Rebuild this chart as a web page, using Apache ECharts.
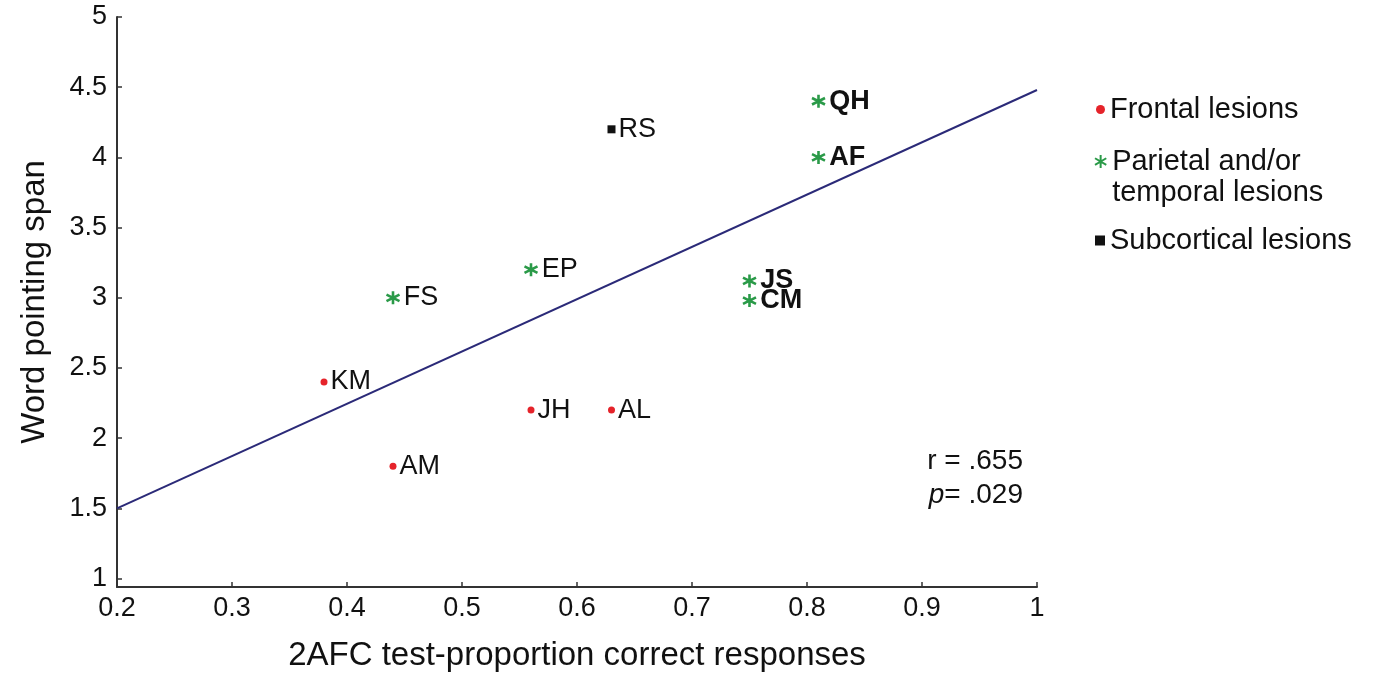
<!DOCTYPE html>
<html>
<head>
<meta charset="utf-8">
<script src="https://cdn.jsdelivr.net/npm/echarts@6/dist/echarts.min.js"></script>
<style>html,body{margin:0;padding:0;background:#fff}#c{width:1374px;height:677px}</style>
</head>
<body>
<div id="c"></div>
<script>
// Data
const frontal = [
  { name: 'KM', x: 0.38, y: 2.4 },
  { name: 'AM', x: 0.44, y: 1.8 },
  { name: 'JH', x: 0.56, y: 2.2 },
  { name: 'AL', x: 0.63, y: 2.2 }
];
const parietal = [
  { name: 'FS', x: 0.44, y: 3.0, bold: false },
  { name: 'EP', x: 0.56, y: 3.2, bold: false },
  { name: 'QH', x: 0.81, y: 4.4, bold: true },
  { name: 'AF', x: 0.81, y: 4.0, bold: true },
  { name: 'JS', x: 0.75, y: 3.12, bold: true },
  { name: 'CM', x: 0.75, y: 2.98, bold: true }
];
const subcortical = [
  { name: 'RS', x: 0.63, y: 4.2 }
];
const fitLine = [[0.2, 1.5], [1.0, 4.48]];
const yTicks = [1, 1.5, 2, 2.5, 3, 3.5, 4, 4.5, 5];
const legendNames = ['Frontal lesions', 'Parietal and/or\ntemporal lesions', 'Subcortical lesions'];
const statR = 'r = .655';
const statP = '= .029';

const FONT = '"Liberation Sans", Arial, sans-serif';
const asterisk = 'path://M5 0 L5 10 M0.67 2.5 L9.33 7.5 M0.67 7.5 L9.33 2.5';
// legend icon: asterisk at the top of a taller (invisible) box so it lines up with the first text line
const asteriskLegend = 'path://M5 0 L5 10 M0.67 2.5 L9.33 7.5 M0.67 7.5 L9.33 2.5 M5 33.8 L5 33.8';

function pts(arr) {
  return arr.map(d => ({
    value: [d.x, d.y],
    name: d.name,
    label: d.bold ? { fontWeight: 'bold' } : undefined
  }));
}
const labelCommon = {
  show: true, position: 'right', distance: 3,
  formatter: p => p.name, color: '#111', fontSize: 27, fontFamily: FONT
};
const legendText = { fontSize: 29, color: '#111', fontFamily: FONT, lineHeight: 31 };

const chart = echarts.init(document.getElementById('c'));
chart.setOption({
  animation: false,
  backgroundColor: '#fff',
  grid: { left: 117, right: 337, top: 17, bottom: 90 },
  xAxis: {
    type: 'value', min: 0.2, max: 1, interval: 0.1,
    name: '2AFC test-proportion correct responses',
    nameLocation: 'middle', nameGap: 52,
    nameTextStyle: { fontSize: 33, color: '#111', fontFamily: FONT },
    axisLine: { show: true, lineStyle: { color: '#333', width: 2 } },
    axisTick: { show: true, inside: true, length: 5, lineStyle: { color: '#333', width: 1.5 } },
    axisLabel: { fontSize: 27, color: '#111', fontFamily: FONT, margin: 8 },
    splitLine: { show: false }
  },
  yAxis: {
    type: 'value', min: 0.94, max: 5,
    name: 'Word pointing span',
    nameLocation: 'middle', nameGap: 66,
    nameTextStyle: { fontSize: 33, color: '#111', fontFamily: FONT },
    axisLine: { show: true, lineStyle: { color: '#333', width: 2 } },
    axisTick: { show: true, inside: true, length: 5, customValues: yTicks, lineStyle: { color: '#333', width: 1.5 } },
    axisLabel: { fontSize: 27, color: '#111', fontFamily: FONT, margin: 10, customValues: yTicks },
    splitLine: { show: false }
  },
  legend: [
    {
      orient: 'vertical', left: 1096, top: 94, padding: 0,
      itemWidth: 9, itemHeight: 9, textStyle: legendText,
      data: [legendNames[0]]
    },
    {
      orient: 'vertical', left: 1094, top: 146, padding: 0,
      itemWidth: 13, itemHeight: 44, textStyle: legendText,
      data: [{ name: legendNames[1], icon: asteriskLegend }]
    },
    {
      orient: 'vertical', left: 1095, top: 225, padding: 0,
      itemWidth: 10, itemHeight: 10, textStyle: legendText,
      data: [legendNames[2]]
    }
  ],
  series: [
    {
      type: 'line', name: 'fit', data: fitLine, showSymbol: false, symbol: 'none',
      lineStyle: { color: '#2b2a78', width: 2 }, z: 1, silent: true
    },
    {
      type: 'scatter', name: legendNames[0], data: pts(frontal),
      symbol: 'circle', symbolSize: 7, itemStyle: { color: '#e5232a', opacity: 1 },
      label: labelCommon, z: 3
    },
    {
      type: 'scatter', name: legendNames[1], data: pts(parietal),
      symbol: asterisk, symbolSize: 13,
      itemStyle: { color: 'rgba(0,0,0,0)', borderColor: '#2a9a48', borderWidth: 2.6, opacity: 1 },
      label: labelCommon, z: 3
    },
    {
      type: 'scatter', name: legendNames[2], data: pts(subcortical),
      symbol: 'rect', symbolSize: 8, itemStyle: { color: '#111', opacity: 1 },
      label: labelCommon, z: 3
    }
  ],
  graphic: [
    {
      type: 'text', right: 1374 - 1023, top: 447,
      style: { text: statR, font: '28px ' + FONT, fill: '#111', textAlign: 'right' }
    },
    {
      type: 'text', right: 1374 - 1023, top: 481,
      style: {
        text: '{i|p}' + statP,
        font: '28px ' + FONT, fill: '#111',
        rich: { i: { fontStyle: 'italic', fontSize: 28, fontFamily: FONT, fill: '#111' } }
      }
    }
  ]
});
</script>
</body>
</html>
